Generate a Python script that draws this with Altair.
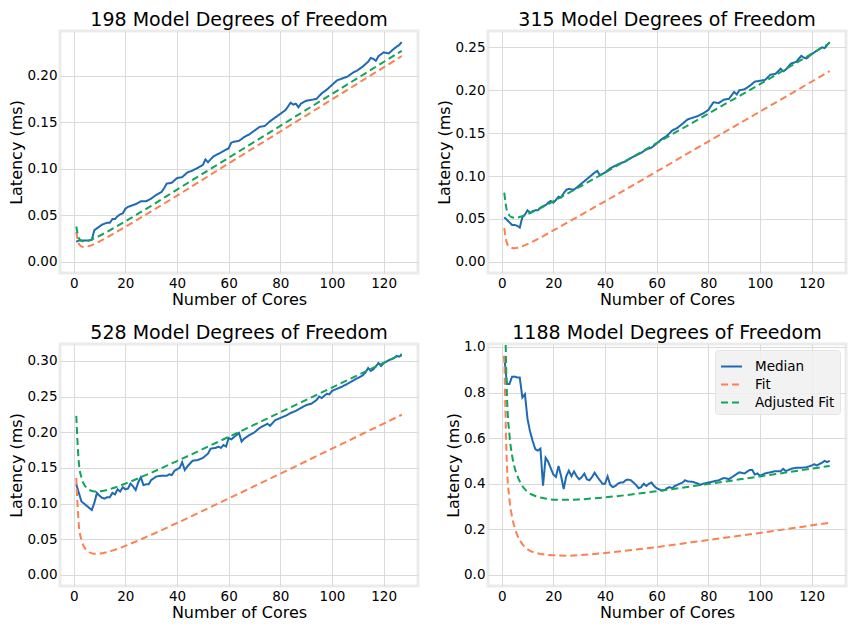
import altair as alt
import pandas as pd

# ---------------- data ----------------
SERIES = ["Median", "Fit", "Adjusted Fit"]
X_TICKS = [0, 20, 40, 60, 80, 100, 120]

# cores at which the two fitted curves were read
FIT_N = [1, 2, 3, 4, 5, 6, 8, 10, 13, 16, 20, 25, 30, 40, 60, 80, 100, 127]

# ---- 198 DoF ----
TL_TITLE = "198 Model Degrees of Freedom"
TL_MED_N = [1, 2, 3, 4, 5, 6, 7, 8, 9, 10, 11, 12, 13, 14, 15, 16, 17, 18, 19, 20, 21,
            22, 24, 26, 28, 30, 32, 34, 35, 36, 38,
            40, 42, 44, 46, 48, 50, 51, 52, 54, 56,
            58, 60, 61, 62, 64, 66, 68, 70, 72, 74,
            76, 78, 80, 82, 84, 85, 86, 87, 88, 90,
            92, 94, 96, 98, 100, 102, 104, 106, 108, 110,
            112, 114, 115, 116, 117, 118, 120, 122, 124, 126,
            127]
TL_MED_V = [0.0215, 0.023, 0.023, 0.023, 0.023, 0.023, 0.0235, 0.034, 0.036, 0.038, 0.040, 0.041,
            0.042, 0.042, 0.046, 0.046, 0.049, 0.051, 0.052, 0.057, 0.059,
            0.060, 0.062, 0.065, 0.065, 0.068, 0.072, 0.075, 0.079, 0.084, 0.085,
            0.090, 0.091, 0.096, 0.098, 0.101, 0.104, 0.110, 0.107, 0.113, 0.116,
            0.119, 0.122, 0.128, 0.129, 0.130, 0.134, 0.137, 0.141, 0.145, 0.146,
            0.151, 0.155, 0.159, 0.163, 0.171, 0.169, 0.170, 0.166, 0.170, 0.173,
            0.174, 0.175, 0.181, 0.185, 0.190, 0.195, 0.197, 0.199, 0.203, 0.206,
            0.210, 0.215, 0.219, 0.218, 0.216, 0.221, 0.225, 0.224, 0.229, 0.233,
            0.236]
TL_FIT = [0.0320, 0.0196, 0.0166, 0.0159, 0.0162, 0.0170, 0.0192, 0.0219, 0.0264, 0.0311,
          0.0376, 0.0459, 0.0542, 0.0711, 0.1058, 0.1400, 0.1745, 0.2210]
TL_ADJ = [0.0380, 0.0256, 0.0226, 0.0220, 0.0222, 0.0230, 0.0252, 0.0279, 0.0324, 0.0371,
          0.0435, 0.0518, 0.0602, 0.0776, 0.1118, 0.1461, 0.1804, 0.2267]
TL_YTICKS = [0.0, 0.05, 0.10, 0.15, 0.20]

# ---- 315 DoF ----
TR_TITLE = "315 Model Degrees of Freedom"
TR_MED_N = [1, 2, 3, 4, 5, 6, 7, 8, 9, 10, 11, 12, 13, 14, 15, 16, 17, 18, 19, 20, 21, 22, 23, 24, 25, 26,
            28, 30, 32, 34, 36, 37, 38, 40, 42, 44,
            46, 48, 50, 52, 54, 56, 58, 60, 62, 64,
            66, 68, 70, 72, 74, 76, 78, 80, 82, 84,
            86, 88, 90, 91, 92, 94, 96, 98, 100, 102,
            104, 106, 108, 109, 110, 112, 114, 116, 117, 118,
            120, 122, 124, 125, 127]
TR_MED_V = [0.052, 0.049, 0.046, 0.043, 0.043, 0.042, 0.040, 0.052, 0.055, 0.060, 0.057, 0.059, 0.060,
            0.060, 0.063, 0.065, 0.066, 0.069, 0.071, 0.069, 0.072, 0.076, 0.075, 0.080, 0.084, 0.085,
            0.084, 0.089, 0.094, 0.099, 0.104, 0.106, 0.101, 0.104, 0.109, 0.112,
            0.115, 0.117, 0.121, 0.124, 0.127, 0.131, 0.133, 0.138, 0.143, 0.147,
            0.153, 0.156, 0.161, 0.166, 0.168, 0.170, 0.173, 0.177, 0.186, 0.185,
            0.189, 0.190, 0.198, 0.195, 0.200, 0.201, 0.205, 0.210, 0.211, 0.212,
            0.218, 0.219, 0.225, 0.222, 0.224, 0.231, 0.233, 0.240, 0.238, 0.237,
            0.242, 0.246, 0.250, 0.249, 0.256]
TR_FIT = [0.0394, 0.0221, 0.0175, 0.0161, 0.0159, 0.0164, 0.0182, 0.0207, 0.0251, 0.0298,
          0.0366, 0.0450, 0.0535, 0.0706, 0.1053, 0.1402, 0.1751, 0.2222]
TR_ADJ = [0.0806, 0.0598, 0.0540, 0.0519, 0.0514, 0.0516, 0.0532, 0.0555, 0.0597, 0.0642,
          0.0706, 0.0788, 0.0871, 0.1040, 0.1383, 0.1727, 0.2071, 0.2550]
TR_YTICKS = [0.0, 0.05, 0.10, 0.15, 0.20, 0.25]

# ---- 528 DoF ----
BL_TITLE = "528 Model Degrees of Freedom"
BL_MED_N = [1, 2, 3, 4, 5, 6, 7, 8, 9, 10,
            11, 12, 13, 14, 15, 16, 17, 18, 19, 20,
            21, 22, 23, 24, 25, 26, 27, 28, 29, 30,
            32, 34, 36, 37, 38, 39, 40, 41, 42, 43,
            44, 46, 48, 50, 52, 53, 55, 56, 57, 58,
            59, 60, 61, 63, 64, 65, 66, 68, 70, 72,
            74, 75, 76, 78, 80, 82, 84, 86, 88, 90,
            92, 94, 95, 96, 98, 99, 100, 102, 104, 106,
            108, 110, 112, 113, 114, 115, 116, 118, 119, 120,
            122, 124, 125, 126, 127]
BL_MED_V = [0.127, 0.115, 0.103, 0.100, 0.097, 0.094, 0.091, 0.101, 0.115, 0.111,
            0.108, 0.107, 0.109, 0.109, 0.115, 0.113, 0.120, 0.117, 0.123, 0.120,
            0.121, 0.128, 0.124, 0.119, 0.130, 0.137, 0.126, 0.127, 0.127, 0.133,
            0.138, 0.139, 0.139, 0.141, 0.140, 0.146, 0.148, 0.150, 0.158, 0.147,
            0.152, 0.160, 0.161, 0.164, 0.170, 0.177, 0.178, 0.180, 0.178, 0.182,
            0.180, 0.192, 0.190, 0.196, 0.199, 0.187, 0.191, 0.196, 0.200, 0.206,
            0.210, 0.212, 0.209, 0.217, 0.220, 0.223, 0.227, 0.230, 0.234, 0.238,
            0.240, 0.245, 0.250, 0.248, 0.254, 0.253, 0.258, 0.261, 0.264, 0.268,
            0.272, 0.276, 0.280, 0.284, 0.290, 0.286, 0.288, 0.297, 0.293, 0.297,
            0.301, 0.304, 0.307, 0.306, 0.308]
BL_FIT = [0.1360, 0.0699, 0.0490, 0.0395, 0.0346, 0.0318, 0.0297, 0.0299, 0.0320, 0.0354,
          0.0408, 0.0483, 0.0562, 0.0728, 0.1071, 0.1419, 0.1770, 0.2245]
BL_ADJ = [0.2229, 0.1572, 0.1365, 0.1270, 0.1220, 0.1192, 0.1171, 0.1172, 0.1193, 0.1226,
          0.1280, 0.1354, 0.1432, 0.1596, 0.1935, 0.2279, 0.2626, 0.3096]
BL_YTICKS = [0.0, 0.05, 0.10, 0.15, 0.20, 0.25, 0.30]

# ---- 1188 DoF ----
BR_TITLE = "1188 Model Degrees of Freedom"
BR_MED_N = [1, 2, 3, 4, 5, 6, 7, 8, 9, 10,
            11, 12, 13, 14, 15, 16, 17, 18, 19, 20,
            21, 22, 23, 24, 25, 26, 27, 28, 29, 30,
            31, 32, 33, 34,
            35, 36, 37, 38, 39, 40, 41, 42, 43, 44,
            45, 46, 47, 48, 49, 50, 51, 52, 53, 54,
            55, 56, 57, 58, 59, 60, 61, 62, 63, 64,
            65, 66, 67, 68, 70, 71, 72, 74, 76, 77,
            78, 80, 82, 84, 86, 88, 90, 92, 94, 96,
            97, 98, 99, 100, 102, 104, 106, 108, 109, 110,
            112, 114, 116, 118, 120, 121, 122, 124, 125, 126,
            127]
BR_MED_V = [0.960, 0.838, 0.838, 0.869, 0.870, 0.866, 0.866, 0.778, 0.793, 0.684,
            0.628, 0.587, 0.552, 0.545, 0.554, 0.391, 0.514, 0.496, 0.468, 0.440,
            0.430, 0.478, 0.433, 0.377, 0.433, 0.457, 0.433, 0.454, 0.433, 0.419,
            0.429, 0.444, 0.419, 0.415,
            0.430, 0.448, 0.430, 0.415, 0.400, 0.400, 0.432, 0.395, 0.385, 0.390,
            0.400, 0.405, 0.405, 0.415, 0.418, 0.415, 0.405, 0.395, 0.380, 0.385,
            0.400, 0.390, 0.400, 0.405, 0.390, 0.380, 0.375, 0.370, 0.372, 0.380,
            0.385, 0.380, 0.390, 0.395, 0.405, 0.415, 0.410, 0.408, 0.400, 0.395,
            0.400, 0.405, 0.410, 0.415, 0.425, 0.420, 0.435, 0.450, 0.445, 0.460,
            0.460, 0.440, 0.445, 0.435, 0.445, 0.450, 0.455, 0.455, 0.465, 0.455,
            0.465, 0.470, 0.470, 0.472, 0.480, 0.485, 0.480, 0.492, 0.500, 0.495,
            0.500]
BR_FIT = [0.962, 0.4895, 0.3326, 0.2549, 0.2090, 0.1750, 0.1350, 0.1120, 0.0970, 0.0900,
          0.0860, 0.0840, 0.0860, 0.0960, 0.1220, 0.1530, 0.1840, 0.2290]
BR_ADJ = [1.347, 0.797, 0.615, 0.525, 0.471, 0.436, 0.390, 0.364, 0.346, 0.337,
          0.330, 0.329, 0.331, 0.340, 0.367, 0.399, 0.432, 0.478]
BR_YTICKS = [0.0, 0.2, 0.4, 0.6, 0.8, 1.0]

# ---------------- styling ----------------
BLUE = "#1f6ab4"
ORANGE = "#fb8150"
GREEN = "#12a45a"
FONT = "DejaVu Sans"
PW, PH = 358, 242
SVG_W, SVG_H = 842, 614
PAD_L, PAD_T = 52, 23


def panel(title, med_n, med_v, fit_v, adj_v, ydom, yticks, yfmt, show_legend):
    med = pd.DataFrame({"n": med_n, "v": med_v, "s": "Median"})
    fits = pd.concat([
        pd.DataFrame({"n": FIT_N, "v": fit_v, "s": "Fit"}),
        pd.DataFrame({"n": FIT_N, "v": adj_v, "s": "Adjusted Fit"}),
    ])
    if show_legend:
        leg = alt.Legend(title=None, orient="top-right", offset=6, padding=5,
                         fillColor="rgba(240,240,240,0.85)", strokeColor="#e4e4e4",
                         cornerRadius=3, symbolType="stroke", symbolSize=440,
                         symbolStrokeWidth=2, labelFontSize=13.5, labelFont=FONT,
                         labelColor="black", labelOffset=12, rowPadding=0)
    else:
        leg = None
    x = alt.X("n:Q", title="Number of Cores",
              scale=alt.Scale(domain=[-5.3, 133.3], nice=False, zero=False),
              axis=alt.Axis(values=X_TICKS, format="d"))
    y = alt.Y("v:Q", title="Latency (ms)",
              scale=alt.Scale(domain=ydom, nice=False, zero=False),
              axis=alt.Axis(values=yticks, format=yfmt))
    color = alt.Color("s:N", scale=alt.Scale(domain=SERIES, range=[BLUE, ORANGE, GREEN]), legend=leg)
    dash = alt.StrokeDash("s:N", scale=alt.Scale(domain=SERIES, range=[[1, 0], [7, 4], [7, 4]]), legend=leg)
    l_med = alt.Chart(med).mark_line(strokeWidth=2, clip=True).encode(
        x=x, y=y, color=color, strokeDash=dash, order="n:Q")
    l_fit = alt.Chart(fits).mark_line(strokeWidth=2, clip=True, interpolate="monotone").encode(
        x=x, y=y, color=color, strokeDash=dash, detail="s:N", order="n:Q")
    # panel title drawn as a text mark just above the plot area
    l_title = alt.Chart(pd.DataFrame({"t": [title]})).mark_text(
        fontSize=19, font=FONT, color="black", align="center", baseline="alphabetic"
    ).encode(x=alt.value(PW / 2), y=alt.value(-5), text="t:N")
    return alt.layer(l_med, l_fit, l_title).properties(width=PW, height=PH)


p1 = panel(TL_TITLE, TL_MED_N, TL_MED_V, TL_FIT, TL_ADJ, [-0.012, 0.248], TL_YTICKS, ".2f", False)
p2 = panel(TR_TITLE, TR_MED_N, TR_MED_V, TR_FIT, TR_ADJ, [-0.013, 0.269], TR_YTICKS, ".2f", False)
p3 = panel(BL_TITLE, BL_MED_N, BL_MED_V, BL_FIT, BL_ADJ, [-0.0155, 0.3237], BL_YTICKS, ".2f", False)
p4 = panel(BR_TITLE, BR_MED_N, BR_MED_V, BR_FIT, BR_ADJ, [-0.049, 1.013], BR_YTICKS, ".1f", True)

# autosize "none": the drawing is SVG_W x SVG_H, with the first panel's plot area at (PAD_L, PAD_T)
chart = alt.concat(p1, p2, p3, p4, columns=2, bounds="flush",
                   spacing={"row": 71, "column": 70}).resolve_scale(
    x="independent", y="independent", color="independent", strokeDash="independent"
).properties(
    autosize=alt.AutoSizeParams(type="none"),
    padding={"left": PAD_L, "top": PAD_T, "right": SVG_W - PAD_L, "bottom": SVG_H - PAD_T},
).configure(font=FONT).configure_view(
    stroke="#ebebeb", strokeWidth=3
).configure_axis(
    grid=True, gridColor="#dadada", gridWidth=1, domain=False, ticks=False,
    labelFont=FONT, labelFontSize=13.5, labelColor="black", labelPadding=3,
    titleFont=FONT, titleFontSize=16, titleFontWeight="normal", titleColor="black", titlePadding=2,
)

chart.save("out.html", embed_options={"renderer": "svg", "actions": False})
